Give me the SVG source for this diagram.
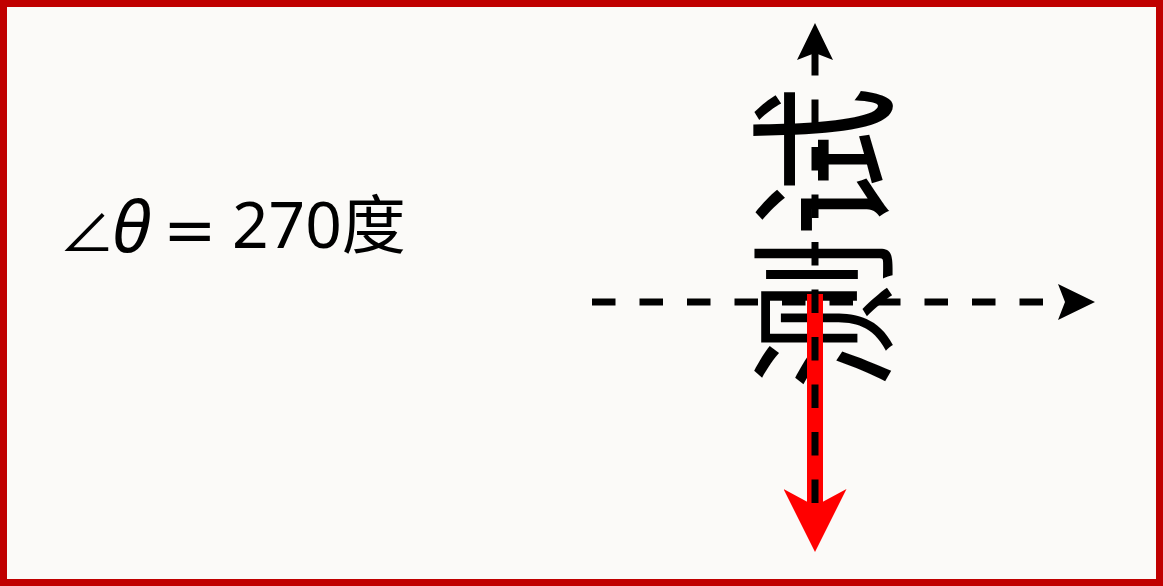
<svg xmlns="http://www.w3.org/2000/svg" width="1163" height="586" viewBox="0 0 1163 586">
  <style>
    .axis { stroke: #000000; stroke-width: 7; stroke-dasharray: 23.5 24; fill: none; }
    .dir { stroke: #FF0000; stroke-width: 16; fill: none; }
    .label { font-family: "Noto Sans", "Noto Sans CJK SC", "DejaVu Sans", sans-serif; font-size: 64px; fill: #000000; }
    .math { font-family: "DejaVu Sans", sans-serif; }
    .rot { font-family: "Noto Sans CJK SC", "Noto Sans", sans-serif; font-size: 152px; fill: #000000; }
  </style>
  <defs>
    <marker id="arrowBlack" viewBox="0 0 37 36" refX="7" refY="18" markerWidth="37" markerHeight="36" markerUnits="userSpaceOnUse" orient="auto">
      <path d="M0,0 L37,18 L0,36 L7,18 Z" fill="#000000" stroke="none"/>
    </marker>
    <marker id="arrowRed" viewBox="0 0 63 63" refX="17" refY="31.5" markerWidth="63" markerHeight="63" markerUnits="userSpaceOnUse" orient="auto">
      <path d="M0,0 L63,31.5 L0,63 L17,31.5 Z" fill="#FF0000" stroke="none"/>
    </marker>
  </defs>

  <g id="frame">
    <rect x="3.5" y="3.5" width="1156" height="579" fill="#FBFAF8" stroke="#C00000" stroke-width="7"/>
  </g>

  <g id="angle-label">
    <text class="label" y="252"><tspan x="59" font-size="56">∠</tspan><tspan x="112" font-style="italic" font-size="72">θ</tspan><tspan class="math" x="163">=</tspan><tspan x="232" y="248">270度</tspan></text>
  </g>

  <g id="rotated-text">
    <text class="rot" transform="translate(881,390) rotate(-90)">测试</text>
  </g>

  <g id="connectors">
    <line class="dir" x1="815" y1="294" x2="815" y2="506" marker-end="url(#arrowRed)"/>
    <line class="axis" x1="592" y1="302" x2="1065" y2="302" marker-end="url(#arrowBlack)"/>
    <line class="axis" x1="815" y1="503" x2="815" y2="53" marker-end="url(#arrowBlack)"/>
  </g>
</svg>
